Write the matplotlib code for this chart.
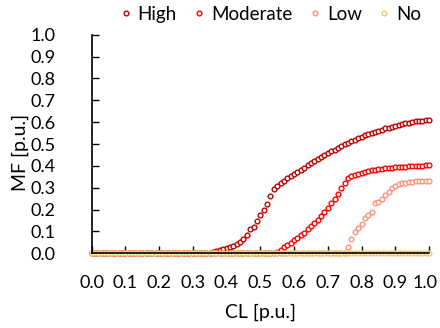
import numpy as np
import matplotlib.pyplot as plt
import matplotlib.transforms as mtrans

plt.rcParams['font.family'] = ['Lato', 'DejaVu Sans']

# CL grid, 0.00 .. 1.00 step 0.01
cl = np.round(np.arange(0, 101) / 100, 2)

# High: zero below 0.36, then values (0.36 .. 1.00)
high_tail = [0.008, 0.011, 0.015, 0.02, 0.023, 0.027, 0.034, 0.041, 0.052, 0.064,
             0.084, 0.11, 0.122, 0.149, 0.174, 0.198, 0.226, 0.262, 0.293, 0.308,
             0.322, 0.333, 0.343, 0.352, 0.362, 0.372, 0.382, 0.392, 0.402, 0.412,
             0.422, 0.431, 0.44, 0.449, 0.458, 0.466, 0.474, 0.482, 0.49, 0.498,
             0.505, 0.512, 0.519, 0.526, 0.533, 0.539, 0.545, 0.551, 0.556, 0.561,
             0.566, 0.571, 0.575, 0.579, 0.583, 0.587, 0.591, 0.594, 0.597, 0.6,
             0.603, 0.605, 0.607, 0.609, 0.611]
high = [0.0] * (101 - len(high_tail)) + high_tail

# Moderate (0.55 .. 1.00)
mod_tail = [0.006, 0.016, 0.027, 0.037, 0.048, 0.059, 0.07, 0.082, 0.095, 0.109,
            0.123, 0.138, 0.154, 0.171, 0.189, 0.208, 0.228, 0.25, 0.273, 0.298,
            0.323, 0.343, 0.354, 0.36, 0.365, 0.369, 0.373, 0.376, 0.379, 0.382,
            0.384, 0.386, 0.388, 0.39, 0.392, 0.393, 0.395, 0.396, 0.397, 0.398,
            0.399, 0.4, 0.401, 0.401, 0.402, 0.402]
moderate = [0.0] * (101 - len(mod_tail)) + mod_tail

# Low (0.76 .. 1.00)
low_tail = [0.03, 0.066, 0.099, 0.114, 0.134, 0.16, 0.175, 0.19, 0.229, 0.236,
            0.25, 0.267, 0.28, 0.297, 0.308, 0.316, 0.32, 0.323, 0.326, 0.328,
            0.329, 0.33, 0.33, 0.331, 0.331]
low = [0.0] * (101 - len(low_tail)) + low_tail

# No
no = [0.0] * 101

labels = ['High', 'Moderate', 'Low', 'No']
colors = ['#C00000', '#FF0000', '#FF9282', '#F0C870']

fig = plt.figure(figsize=(4.4, 3.28), dpi=100)
ax = fig.add_axes([0.208, 0.2277, 0.767, 0.6665])

for y, lab, c in zip([high, moderate, low, no], labels, colors):
    ax.plot(cl, y, linestyle='none', marker='o', markersize=3.4,
            markerfacecolor='white', markeredgecolor=c, markeredgewidth=1.0,
            label=lab, clip_on=False)

ax.set_xlim(0, 1.0)
ax.set_ylim(0, 1.0)
ax.set_xticks(np.arange(0, 1.01, 0.1))
ax.set_yticks(np.arange(0, 1.01, 0.1))
ax.xaxis.set_major_formatter(plt.FormatStrFormatter('%.1f'))
ax.yaxis.set_major_formatter(plt.FormatStrFormatter('%.1f'))
ax.tick_params(direction='in', length=5, width=1, labelsize=13)
ax.tick_params(axis='x', pad=15.5)
ax.tick_params(axis='y', pad=26)
for s in ['top', 'right']:
    ax.spines[s].set_visible(False)
for s in ['left', 'bottom']:
    ax.spines[s].set_linewidth(1.2)

# keep the last x label inside the canvas
last = ax.get_xticklabels()[-1]
last.set_transform(last.get_transform() +
                   mtrans.ScaledTranslation(-3 / 72, 0, fig.dpi_scale_trans))

ax.set_xlabel('CL [p.u.]', fontsize=14)
ax.set_ylabel('MF [p.u.]', fontsize=14)
ax.xaxis.set_label_coords(0.5, -0.232)
ax.yaxis.set_label_coords(-0.185, 0.46)

fig.legend(loc='center', bbox_to_anchor=(0.612, 0.957), ncol=4, frameon=False,
           fontsize=13.5, handletextpad=0.18, columnspacing=0.75,
           handlelength=0.9, borderaxespad=0, borderpad=0)

fig.savefig('out.png', dpi=100)
